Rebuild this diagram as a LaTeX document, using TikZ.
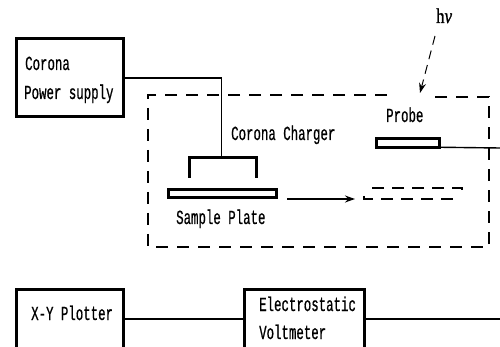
\documentclass[tikz,border=0pt]{standalone}
\usepackage{fontspec}
\setmainfont{Liberation Serif}
\newfontfamily\labelfont[FakeStretch=0.62,FakeBold=0.6]{Liberation Mono}
\newfontfamily\greekfont[FakeStretch=0.8,FakeBold=1]{Liberation Serif}
\usetikzlibrary{arrows.meta}
\tikzset{
  x=1pt,y=-1pt,
  blockbox/.style={draw=black,line width=3pt,fill=white,inner sep=0pt,outer sep=0pt,minimum width=#1},
  slab/.style={draw=black,line width=3pt,inner sep=0pt,outer sep=0pt,minimum width=#1,minimum height=8.5pt},
  wire/.style={draw=black,line width=1.4pt},
  dashline/.style={draw=black,line width=1.2pt,dash pattern=on 12pt off 9pt},
  lab/.style={font=\labelfont\fontsize{20pt}{21pt}\selectfont,anchor=base west,inner sep=0pt,text=black},
  tip/.style={-{Stealth[length=10pt,width=7pt]}}
}
\begin{document}
\begin{tikzpicture}
\useasboundingbox (0,0) rectangle (500,347);
\clip (0,0) rectangle (500,347);
% blocks
\node[blockbox=107pt,minimum height=78pt] (cps) at (69.5,78) {};
\node[blockbox=107pt,minimum height=60pt] (xy) at (69.5,319) {};
\node[blockbox=120pt,minimum height=60pt] (esv) at (304,319) {};
\coordinate (chgtop) at (221.5,157);
\coordinate (rightend) at (500,148);
\coordinate (rightend2) at (500,319);
\draw[wire] (cps.east) -| (chgtop);
\draw[wire] (xy.east) -- (esv.west);
\draw[wire] (esv.east) -- (rightend2);
% chamber
\coordinate (gapL) at (387,95);
\coordinate (gapR) at (429,97);
\coordinate (ctl) at (148,95);
\coordinate (cbl) at (148,247);
\coordinate (cbr) at (489,247);
\coordinate (ctr) at (489,97);
\draw[dashline] (gapL) -- (ctl) -- (cbl) -- (cbr) -- (ctr) -- (gapR);
% charger
\coordinate (chgL) at (189,178);
\coordinate (chgLt) at (189,158);
\coordinate (chgRt) at (256,158);
\coordinate (chgR) at (256,178);
\draw[draw=black,line width=3pt] (chgL) -- (chgLt) -- (chgRt) -- (chgR);
% sample, moved sample, probe
\node[slab=108pt] (plate) at (222.5,193.5) {};
\node[slab=63pt] (probe) at (408,143) {};
\draw[wire] (probe.south east) -- (rightend);
\coordinate (gl) at (364,196);
\coordinate (gb) at (364,199);
\coordinate (gbr) at (460,199);
\coordinate (gtl) at (372,188);
\coordinate (gtr) at (462,188);
\coordinate (gr) at (462,195);
\draw[draw=black,line width=1.3pt,dash pattern=on 12pt off 8pt] (gl) -- (gb) -- (gbr);
\draw[draw=black,line width=1.3pt,dash pattern=on 12pt off 8pt] (gtl) -- (gtr) -- (gr);
\coordinate (mvs) at (287,199);
\coordinate (mve) at (355,199);
\draw[wire,tip] (mvs) -- (mve);
% light
\coordinate (lightS) at (435,36);
\coordinate (lightE) at (420,93);
\draw[draw=black,line width=1pt,dash pattern=on 9pt off 6pt,tip] (lightS) -- (lightE);
% labels
\node[lab] (t1) at (25,70) {Corona};
\node[lab] (t2) at (24,99) {Power supply};
\node[lab] (t3) at (231,140) {Corona Charger};
\node[lab] (t4) at (386,122) {Probe};
\node[lab] (t5) at (176,224) {Sample Plate};
\node[lab] (t6) at (31,320) {X-Y Plotter};
\node[lab] (t7) at (259,311) {Electrostatic};
\node[lab] (t8) at (259,339) {Voltmeter};
\node[anchor=base west,inner sep=0pt,font=\greekfont\fontsize{21pt}{22pt}\selectfont] (hv) at (436,23) {h\textit{ν}};
\end{tikzpicture}
\end{document}
